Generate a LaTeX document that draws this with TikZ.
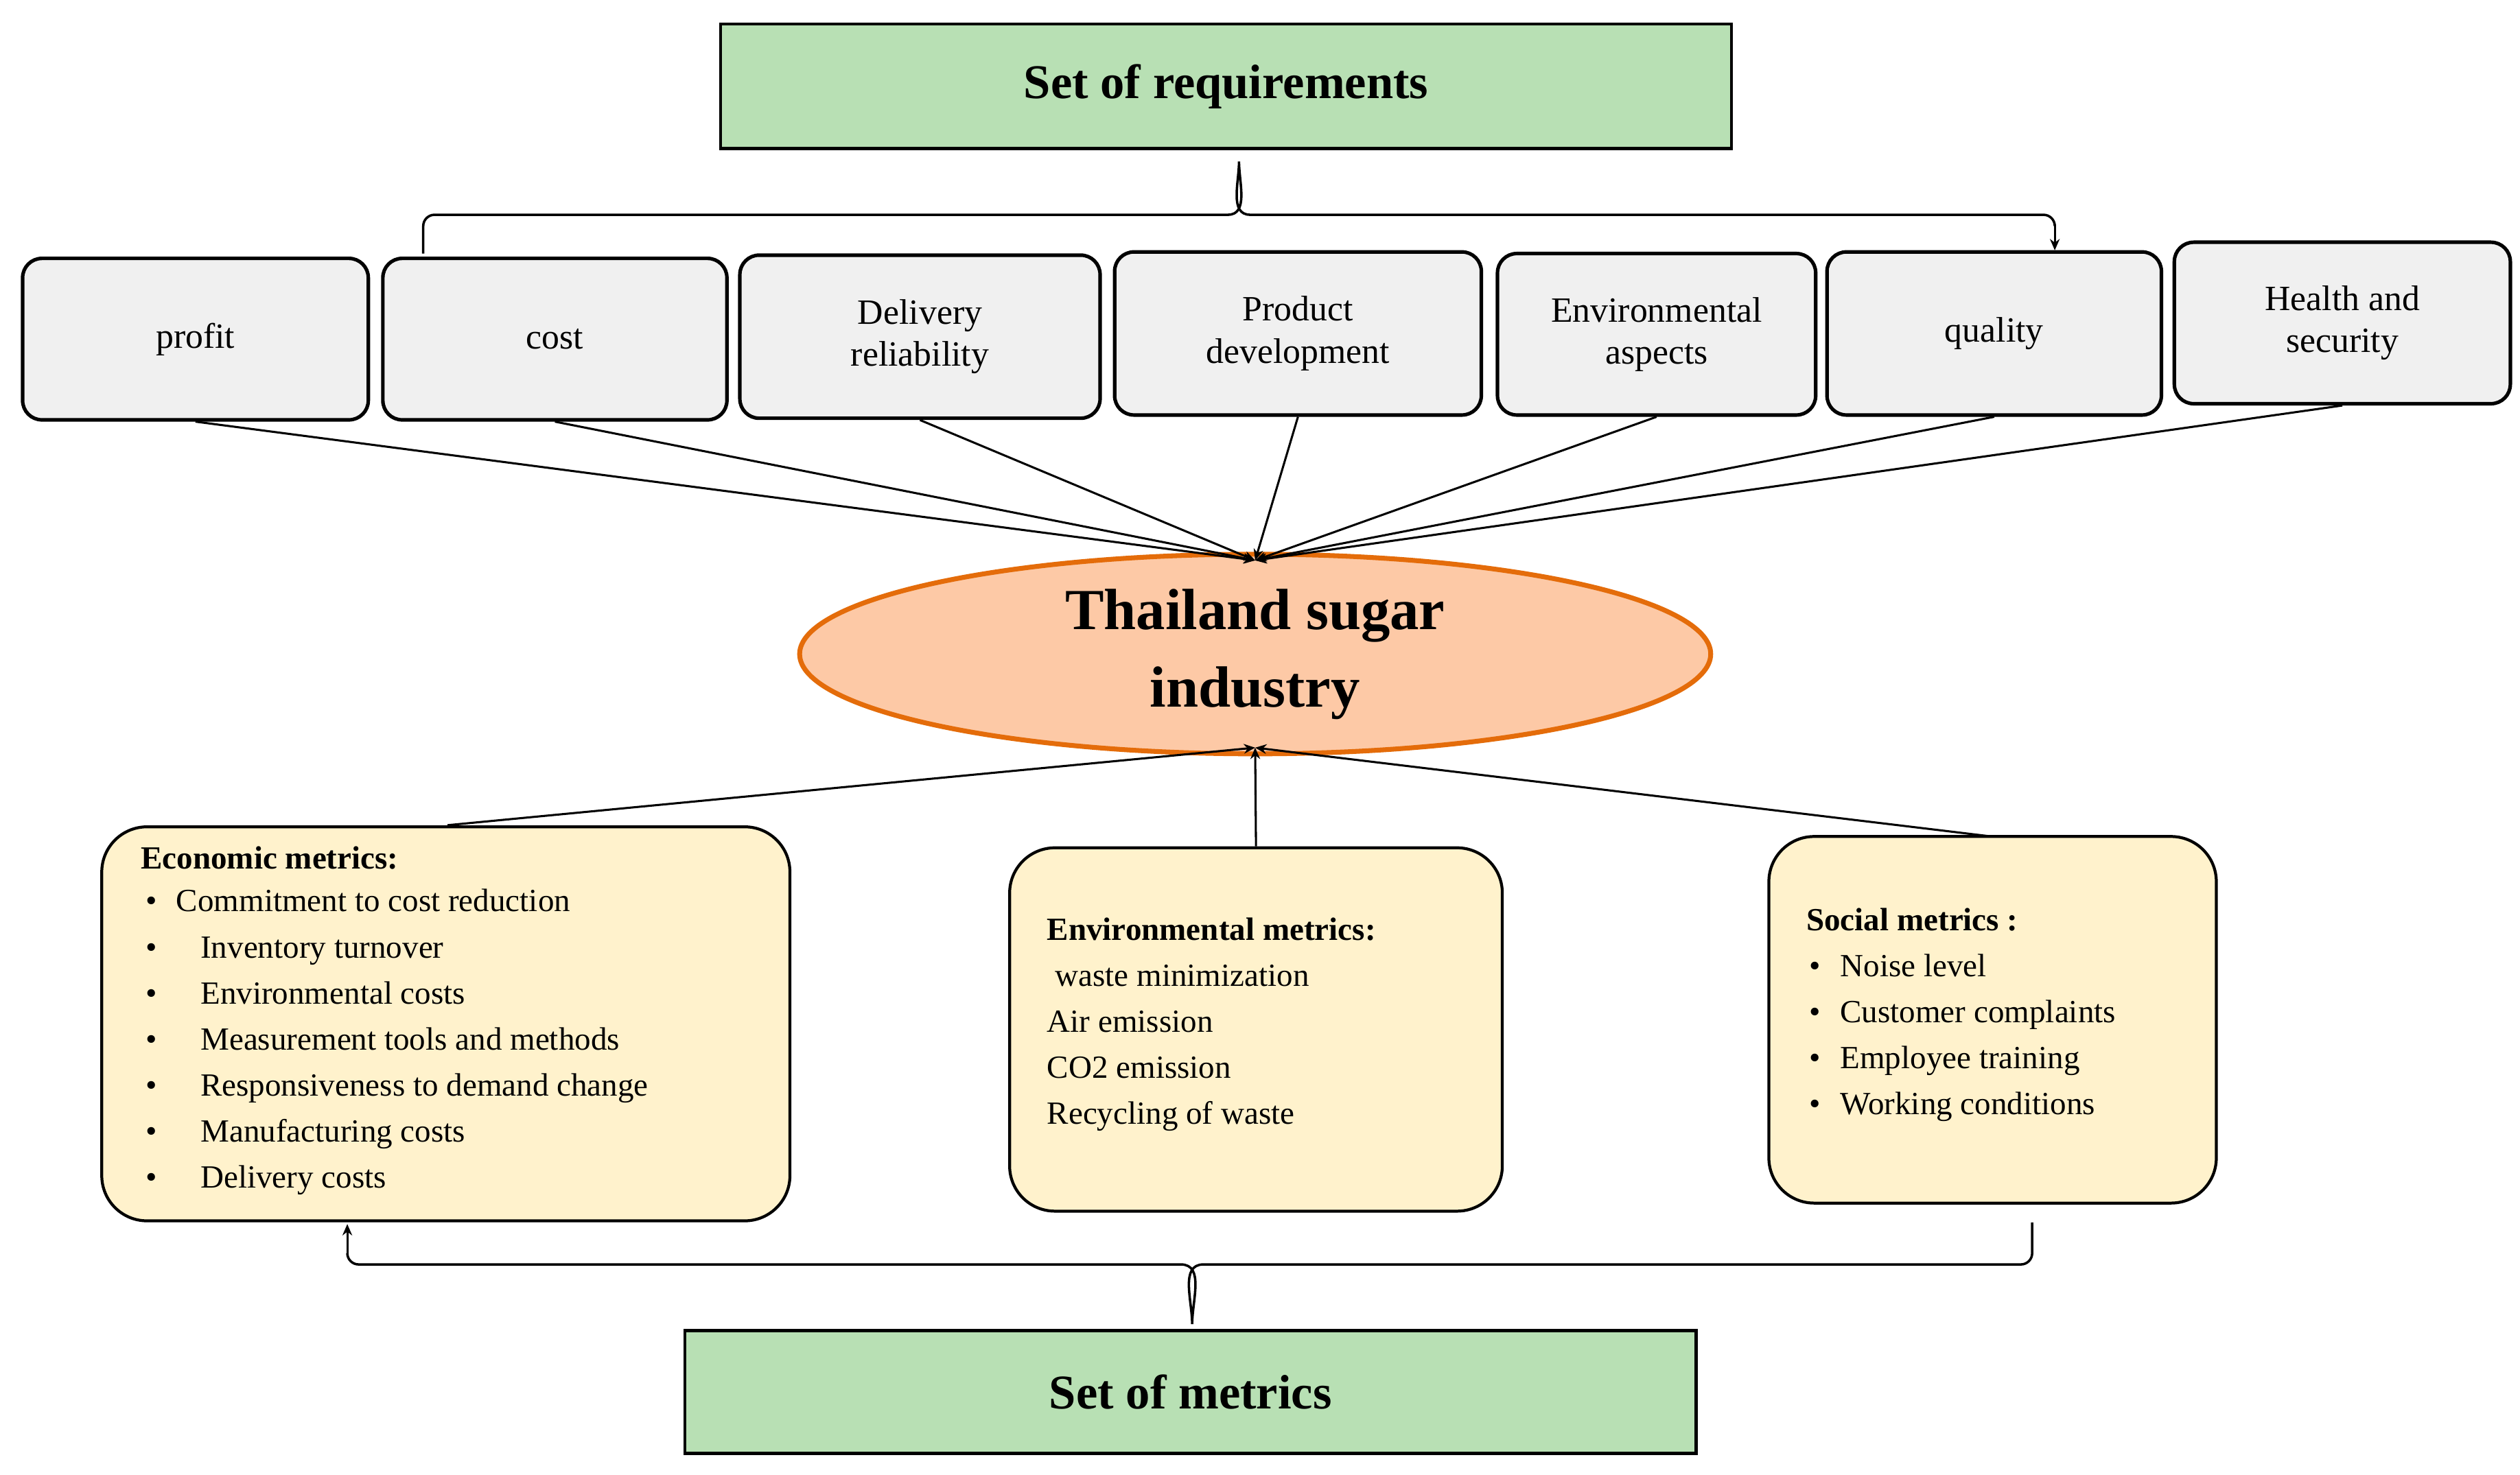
\documentclass[tikz,border=0pt]{standalone}
\usepackage{fontspec}
\setmainfont{Liberation Serif}
\usetikzlibrary{shapes.geometric,arrows.meta}
\begin{document}
\begin{tikzpicture}[x=1pt,y=-1pt,
 req/.style={draw,line width=2.2pt,rounded corners=12pt,fill=gray!12,align=center,font=\fontsize{22}{26}\selectfont},
 met/.style={draw,line width=1.8pt,rounded corners=28pt,fill=yellow!20!orange!10!white,fill=metfill},
 top/.style={draw,line width=1.8pt,fill=green!25!white,fill=topfill,font=\bfseries\fontsize{30}{34}\selectfont},
 arr/.style={line width=1.3pt,-{Stealth[length=7pt,width=6pt]}},
 txt/.style={font=\fontsize{20}{28.5}\selectfont,align=left,anchor=north west,inner sep=0pt}]
\definecolor{metfill}{HTML}{FFF2CC}
\definecolor{topfill}{HTML}{B8E0B4}
\definecolor{ellfill}{HTML}{FDC9A6}
\definecolor{ellline}{HTML}{E46C0A}
\useasboundingbox (0,0) rectangle (1560,913);
\node[top,minimum width=626,minimum height=77] (sr) at (759,53.5) {Set of requirements};
\node[req,minimum width=214,minimum height=100] (p1) at (121,210) {profit};
\node[req,minimum width=213,minimum height=100] (p2) at (343.5,210) {cost};
\node[req,minimum width=223,minimum height=101] (p3) at (569.5,208.5) {Delivery\\reliability};
\node[req,minimum width=227,minimum height=101] (p4) at (803.5,206.5) {Product\\development};
\node[req,minimum width=197,minimum height=100] (p5) at (1025.5,207) {Environmental\\aspects};
\node[req,minimum width=207,minimum height=101] (p6) at (1234.5,206.5) {quality};
\node[req,minimum width=208,minimum height=100] (p7) at (1450,200) {Health and\\security};
\node[ellipse,draw=ellline,line width=3pt,fill=ellfill,minimum width=564,minimum height=116,align=center,font=\bfseries\fontsize{36}{48}\selectfont] (th) at (777,405) {Thailand sugar\\industry};
\coordinate (tt) at (777,347);
\coordinate (tb) at (777,463);
\foreach \i in {1,...,7}{\draw[arr] (p\i.south) -- (tt);}
% top brace
\coordinate (b1) at (262,157);
\coordinate (b2) at (1272,155);
\draw[line width=1.5pt] (b1) -- (262,140) to[out=90,in=180] (269,133) -- (760,133) to[out=0,in=-90] (767,100) to[out=-90,in=180] (774,133) -- (1265,133) to[out=0,in=90] (1272,140);
\draw[arr] (1272,139) -- (b2);
\node[met,minimum width=426,minimum height=244] (em) at (276,634) {};
\node[met,minimum width=305,minimum height=225] (en) at (777.5,637.5) {};
\node[met,minimum width=277,minimum height=227] (so) at (1233.5,631.5) {};
\node[txt] at (87,524) {\textbf{Economic metrics:}\\[-2pt]
\hspace*{3pt}•\hspace{12pt}Commitment to cost reduction\\
\hspace*{3pt}•\hspace{27pt}Inventory turnover\\
\hspace*{3pt}•\hspace{27pt}Environmental costs\\
\hspace*{3pt}•\hspace{27pt}Measurement tools and methods\\
\hspace*{3pt}•\hspace{27pt}Responsiveness to demand change\\
\hspace*{3pt}•\hspace{27pt}Manufacturing costs\\
\hspace*{3pt}•\hspace{27pt}Delivery costs};
\node[txt] at (648,568) {\textbf{Environmental metrics:}\\
\ waste minimization\\Air emission\\CO2 emission\\Recycling of waste};
\node[txt] at (1118,562) {\textbf{Social metrics :}\\
\hspace*{2pt}•\hspace{12pt}Noise level\\
\hspace*{2pt}•\hspace{12pt}Customer complaints\\
\hspace*{2pt}•\hspace{12pt}Employee training\\
\hspace*{2pt}•\hspace{12pt}Working conditions};
\draw[arr] (277,511) -- (tb);
\draw[arr] (en.north) -- (tb);
\draw[arr] (1233,518) -- (tb);
\node[top,minimum width=626,minimum height=76] (sm) at (737,862) {Set of metrics};
\coordinate (c1) at (1258,757);
\coordinate (c2) at (215,758);
\draw[line width=1.5pt] (c1) -- (1258,776) to[out=-90,in=0] (1251,783) -- (745,783) to[out=180,in=90] (738,820) to[out=90,in=0] (731,783) -- (222,783) to[out=180,in=-90] (215,776);
\draw[arr] (215,777) -- (c2);
\end{tikzpicture}
\end{document}
